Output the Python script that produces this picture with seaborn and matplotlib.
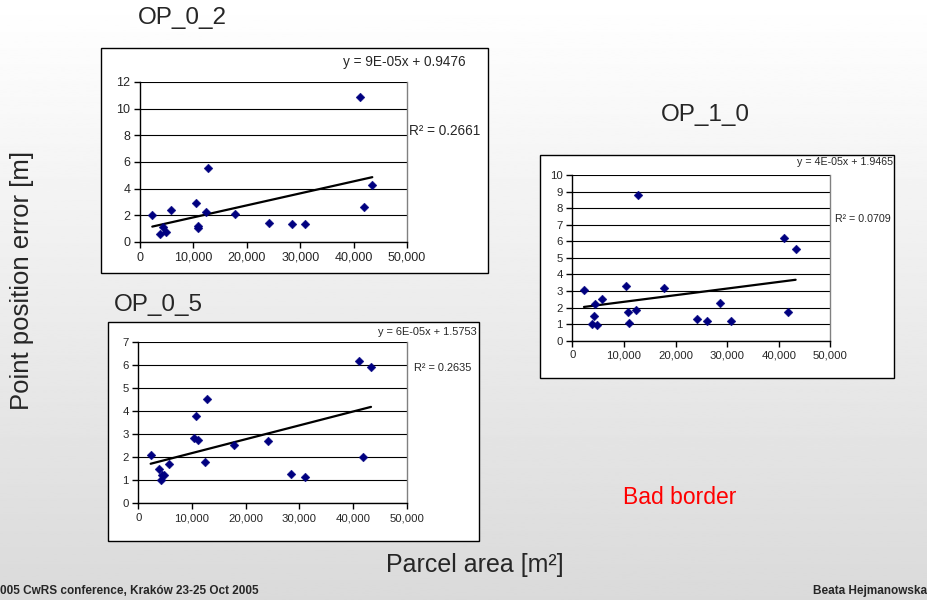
import numpy as np
import pandas as pd
import matplotlib
matplotlib.use("Agg")
import matplotlib.pyplot as plt
from matplotlib.patches import Rectangle
from matplotlib.ticker import FuncFormatter, MultipleLocator
import seaborn as sns

# data
op02_area = [2300, 3800, 4240, 4800, 5740, 10400, 10900, 10900, 12400, 12700,
             17800, 24100, 28550, 30900, 41200, 41900, 43500]
op02_err = [2.0, 0.62, 1.12, 0.72, 2.4, 2.92, 1.22, 1.02, 2.22, 5.57,
            2.07, 1.4, 1.35, 1.35, 10.85, 2.6, 4.25]

op05_area = [2300, 3800, 4220, 4350, 4780, 5710, 10430, 10800, 11060, 12360,
             12730, 17830, 24100, 28500, 31000, 41100, 41800, 43350]
op05_err = [2.08, 1.5, 1.01, 1.21, 1.23, 1.70, 2.84, 3.77, 2.74, 1.79,
            4.53, 2.51, 2.71, 1.26, 1.14, 6.15, 1.99, 5.9]

op10_area = [2260, 3810, 4200, 4390, 4720, 5750, 10460, 10720, 10980, 12340,
             12660, 17760, 24160, 26100, 28550, 30810, 41080, 41800, 43280]
op10_err = [3.06, 1.01, 1.51, 2.21, 0.95, 2.49, 3.30, 1.75, 1.07, 1.85,
            8.79, 3.20, 1.33, 1.17, 2.27, 1.17, 6.18, 1.75, 5.53]

slopes = [9e-05, 6e-05, 4e-05]
intercepts = [0.9476, 1.5753, 1.9465]
eq_labels = ["y = 9E-05x + 0.9476", "y = 6E-05x + 1.5753", "y = 4E-05x + 1.9465"]
r2_labels = ["R\u00b2 = 0.2661", "R\u00b2 = 0.2635", "R\u00b2 = 0.0709"]
titles = ["OP_0_2", "OP_0_5", "OP_1_0"]
y_max = [12, 7, 10]
y_step = [2, 1, 1]

sns.set_style("white")
plt.rcParams['font.family'] = ['Liberation Sans', 'DejaVu Sans']

W, H = 927, 600
fig = plt.figure(figsize=(9.27, 6), dpi=100)


def fx(x):
    return x / W


def fy(y):
    return 1 - y / H


# slide background gradient
bg = fig.add_axes([0, 0, 1, 1], zorder=-10)
grad = np.linspace(1.0, 0.855, 256).reshape(-1, 1)
bg.imshow(grad, aspect='auto', cmap='gray', vmin=0, vmax=1, extent=[0, 1, 0, 1])
bg.set_axis_off()

# white chart boxes (left, top, right, bottom in pixels)
boxes = [(101, 48, 488, 273), (108, 322, 479, 541), (540, 155, 894, 378)]
for l, t, r, b in boxes:
    fig.patches.append(Rectangle((fx(l), fy(b)), fx(r - l), (b - t) / H,
                                 transform=fig.transFigure, facecolor='white',
                                 edgecolor='black', lw=1.0, zorder=-5))

# plot areas (left, top, right, bottom in pixels)
areas = [(140, 82, 407, 242), (138.3, 341.7, 406.7, 503.3), (572.3, 175, 830.3, 340.7)]
tick_fs = [9, 8.2, 8.2]
eq_fs = [9.8, 7.9, 7.7]
eq_pos = [(343, 62), (378, 332), (797, 162)]
r2_pos = [(409, 131), (414, 368), (835, 219)]

datasets = [(op02_area, op02_err), (op05_area, op05_err), (op10_area, op10_err)]

for i, (xs, ys) in enumerate(datasets):
    l, t, r, b = areas[i]
    ax = fig.add_axes([fx(l), fy(b), fx(r - l), (b - t) / H])
    ax.set_facecolor('none')
    df = pd.DataFrame({'area': xs, 'err': ys})
    sns.scatterplot(data=df, x='area', y='err', ax=ax, marker='D', s=20,
                    color='#000080', edgecolor='#000080', linewidth=0.3, zorder=4)
    xl = np.array([min(xs), max(xs)])
    trend = pd.DataFrame({'area': xl, 'err': slopes[i] * xl + intercepts[i]})
    sns.lineplot(data=trend, x='area', y='err', ax=ax, color='black', lw=1.6, zorder=3)
    ax.set_xlim(0, 50000)
    ax.set_ylim(0, y_max[i])
    ax.xaxis.set_major_locator(MultipleLocator(10000))
    ax.yaxis.set_major_locator(MultipleLocator(y_step[i]))
    ax.xaxis.set_major_formatter(FuncFormatter(lambda v, p: f"{int(v):,}"))
    ax.yaxis.set_major_formatter(FuncFormatter(lambda v, p: f"{int(v)}"))
    ax.grid(axis='y', color='black', lw=0.8)
    ax.set_axisbelow(True)
    ax.spines['top'].set_visible(False)
    ax.spines['right'].set_color('#808080')
    ax.spines['left'].set_color('black')
    ax.spines['bottom'].set_color('black')
    for s in ['left', 'bottom', 'right']:
        ax.spines[s].set_linewidth(1.0)
    ax.tick_params(axis='both', direction='out', length=4, width=1, color='black',
                   labelsize=tick_fs[i], pad=3, left=True, bottom=True)
    ax.set_xlabel('')
    ax.set_ylabel('')
    fig.text(fx(eq_pos[i][0]), fy(eq_pos[i][1]), eq_labels[i], fontsize=eq_fs[i],
             ha='left', va='center')
    fig.text(fx(r2_pos[i][0]), fy(r2_pos[i][1]), r2_labels[i], fontsize=eq_fs[i],
             ha='left', va='center')

# panel titles
fig.text(fx(182), fy(18), titles[0], fontsize=17.5, ha='center', va='center')
fig.text(fx(158), fy(305), titles[1], fontsize=17.5, ha='center', va='center')
fig.text(fx(705), fy(115), titles[2], fontsize=17.5, ha='center', va='center')

fig.text(fx(22), fy(280), "Point position error [m]", fontsize=18.5, rotation=90,
         ha='center', va='center')
fig.text(fx(475), fy(565), "Parcel area [m\u00b2]", fontsize=18, ha='center', va='center')
fig.text(fx(680), fy(497), "Bad border", fontsize=16.5, color='red', ha='center', va='center')

fig.text(fx(0), fy(591), "005 CwRS conference, Krak\u00f3w 23-25 Oct 2005", fontsize=8.5,
         fontweight='bold', ha='left', va='center')
fig.text(fx(927), fy(591), "Beata Hejmanowska", fontsize=8.5, fontweight='bold',
         ha='right', va='center')

fig.savefig("out.png", dpi=100)
